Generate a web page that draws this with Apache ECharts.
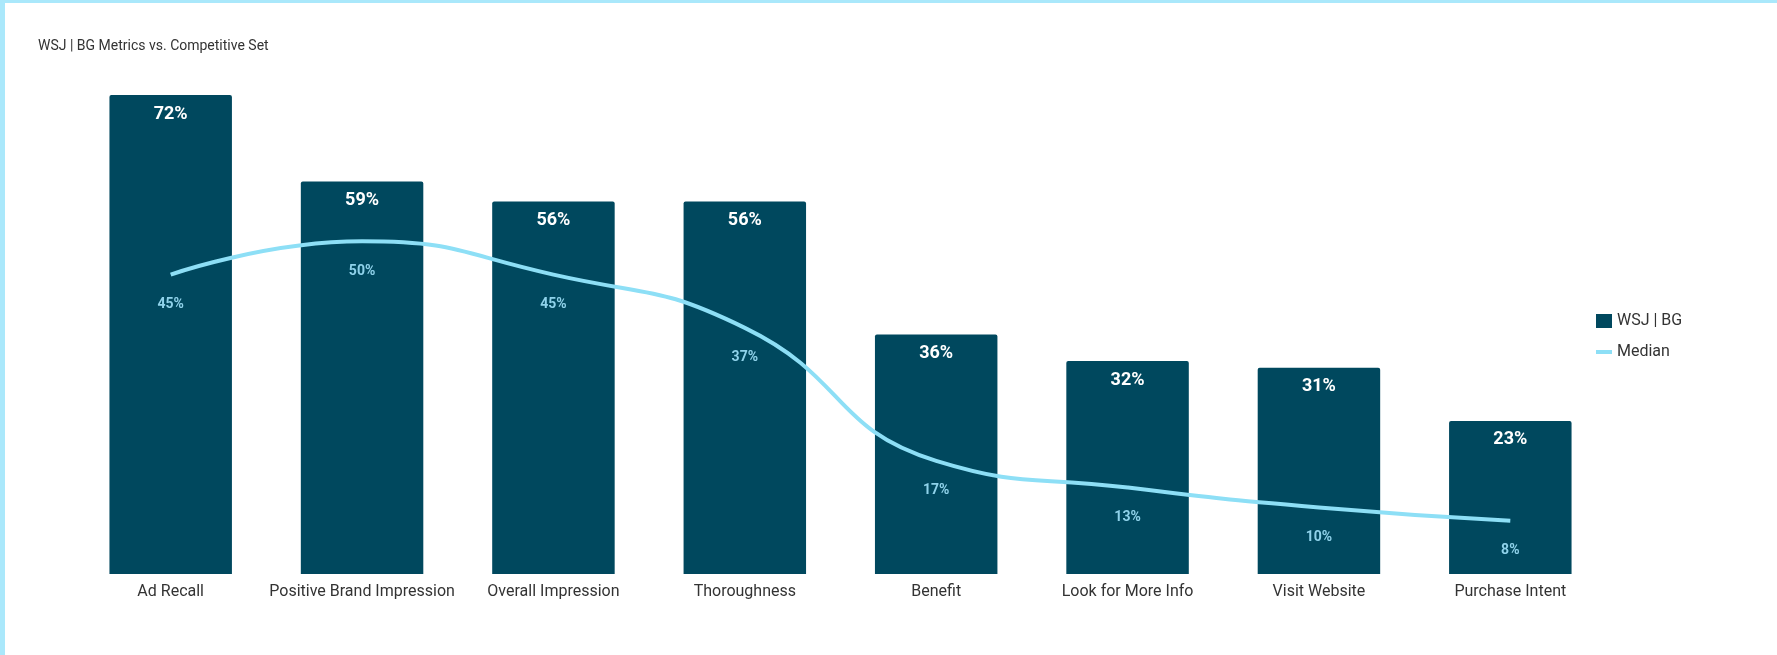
<!DOCTYPE html>
<html>
<head>
<meta charset="utf-8">
<script src="https://cdn.jsdelivr.net/npm/echarts@6/dist/echarts.min.js"></script>
<style>
html,body{margin:0;padding:0;background:#fff;}
#wrap{position:absolute;left:0;top:0;width:1777px;height:655px;box-sizing:border-box;border-left:5px solid #aae8fb;border-top:3px solid #aae8fb;}
#chart{position:absolute;left:0;top:0;width:1777px;height:655px;}
</style>
</head>
<body>
<div id="wrap"></div>
<div id="chart"></div>
<script>
const categories = ['Ad Recall','Positive Brand Impression','Overall Impression','Thoroughness','Benefit','Look for More Info','Visit Website','Purchase Intent'];
const wsjValues = [72, 59, 56, 56, 36, 32, 31, 23];
const medianValues = [45, 50, 45, 37, 17, 13, 10, 8];

const chart = echarts.init(document.getElementById('chart'), null, {renderer:'canvas'});
chart.setOption({
  backgroundColor: 'transparent',
  textStyle: {fontFamily: 'Roboto'},
  animation: false,
  title: {
    text: 'WSJ | BG Metrics vs. Competitive Set',
    left: 33, top: 34,
    textStyle: {fontSize: 14, fontWeight: 'normal', color: '#333', fontFamily: 'Roboto'}
  },
  legend: {
    orient: 'vertical',
    left: 1591, top: 308,
    itemWidth: 16, itemHeight: 14, itemGap: 15,
    symbolKeepAspect: true,
    textStyle: {fontSize: 16, color: '#333', fontFamily: 'Roboto'},
    data: [{name: 'WSJ | BG', icon: 'rect'}, {name: 'Median', icon: 'path://M0,0H16V4H0Z'}]
  },
  grid: {left: 75, right: 171, top: 95, bottom: 81},
  xAxis: {
    type: 'category',
    data: categories,
    axisLine: {show: false},
    axisTick: {show: false},
    axisLabel: {fontSize: 16, color: '#333', margin: 10, interval: 0, fontFamily: 'Roboto'}
  },
  yAxis: {
    type: 'value', min: 0, max: 72, show: false,
    splitLine: {show: false}
  },
  series: [
    {
      name: 'WSJ | BG',
      type: 'bar',
      data: wsjValues,
      barCategoryGap: '36%',
      itemStyle: {color: '#00485e', borderRadius: [2,2,0,0]},
      label: {
        show: true, position: 'insideTop', distance: 10,
        formatter: '{c}%', color: '#fff', fontSize: 18, fontWeight: 'bold', fontFamily: 'Roboto'
      }
    },
    {
      name: 'Median',
      type: 'line',
      data: medianValues,
      smooth: 0.5,
      symbol: 'circle',
      symbolSize: 0.01,
      showSymbol: true,
      z: 5,
      lineStyle: {color: '#8ddff6', width: 4},
      itemStyle: {color: '#8ddff6'},
      label: {
        show: true, position: 'bottom', distance: 23,
        formatter: '{c}%', color: '#8fd2ea', fontSize: 14, fontWeight: 'bold', fontFamily: 'Roboto'
      }
    }
  ]
});
</script>
</body>
</html>
